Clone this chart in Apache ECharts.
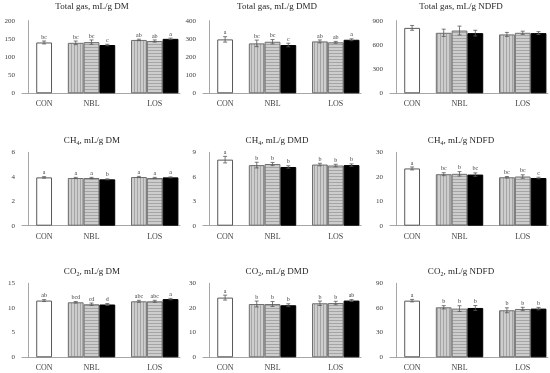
<!DOCTYPE html>
<html><head><meta charset="utf-8">
<script src="https://cdn.jsdelivr.net/npm/echarts@6/dist/echarts.min.js"></script>
<style>html,body{margin:0;padding:0;background:#fff}#c{width:550px;height:373px}</style>
</head><body><div id="c"></div>
<script>
// ---- data ----
const groups = ['CON', 'NBL', 'LOS'];
const groupSizes = [1, 3, 3];

const titles = [
  'Total gas, mL/g DM', 'Total gas, mL/g DMD', 'Total gas, mL/g NDFD',
  'CH{s|4}, mL/g DM', 'CH{s|4}, mL/g DMD', 'CH{s|4}, mL/g NDFD',
  'CO{s|2}, mL/g DM', 'CO{s|2}, mL/g DMD', 'CO{s|2}, mL/g NDFD'
];
const yMax = [200, 400, 900, 6, 9, 30, 15, 30, 90];
const yStep = [50, 100, 300, 2, 3, 10, 5, 10, 30];

const gasDM    = [140, 139, 141, 133, 147, 144, 150];
const gasDMD   = [297, 275, 284, 266, 286, 281, 295];
const gasNDFD  = [811, 750, 778, 746, 730, 750, 746];
const ch4DM    = [3.95, 3.9, 3.9, 3.79, 3.98, 3.9, 3.95];
const ch4DMD   = [8.1, 7.43, 7.56, 7.2, 7.5, 7.38, 7.43];
const ch4NDFD  = [23.4, 21.05, 21.2, 20.9, 19.8, 20.1, 19.5];
const co2DM    = [11.5, 11.15, 10.75, 10.7, 11.35, 11.35, 11.8];
const co2DMD   = [24.2, 21.6, 21.6, 21.1, 21.9, 22.0, 23.0];
const co2NDFD  = [68.9, 60.8, 59.2, 60.0, 57.2, 58.8, 59.2];

const gasDMErr   = [4, 5, 6, 2, 2, 3, 2];
const gasDMDErr  = [15, 18, 12, 10, 8, 5, 5];
const gasNDFDErr = [30, 45, 55, 35, 25, 20, 18];
const ch4DMErr   = [0.06, 0.05, 0.05, 0.04, 0.05, 0.05, 0.04];
const ch4DMDErr  = [0.4, 0.35, 0.2, 0.15, 0.15, 0.15, 0.15];
const ch4NDFDErr = [0.6, 0.6, 0.9, 0.7, 0.3, 0.7, 0.3];
const co2DMErr   = [0.2, 0.15, 0.25, 0.2, 0.2, 0.2, 0.15];
const co2DMDErr  = [1.0, 1.2, 1.0, 0.6, 0.9, 0.7, 0.4];
const co2NDFDErr = [1.5, 2, 3.5, 3, 3, 2, 1.5];

const gasDMLet   = ['bc', 'bc', 'bc', 'c', 'ab', 'ab', 'a'];
const gasDMDLet  = ['a', 'bc', 'bc', 'c', 'ab', 'ab', 'a'];
const gasNDFDLet = ['', '', '', '', '', '', ''];
const ch4DMLet   = ['a', 'a', 'a', 'b', 'a', 'a', 'a'];
const ch4DMDLet  = ['a', 'b', 'b', 'b', 'b', 'b', 'b'];
const ch4NDFDLet = ['a', 'bc', 'b', 'bc', 'bc', 'bc', 'c'];
const co2DMLet   = ['ab', 'bcd', 'cd', 'd', 'abc', 'abc', 'a'];
const co2DMDLet  = ['a', 'b', 'b', 'b', 'b', 'b', 'ab'];
const co2NDFDLet = ['a', 'b', 'b', 'b', 'b', 'b', 'b'];

const allValues  = [gasDM, gasDMD, gasNDFD, ch4DM, ch4DMD, ch4NDFD, co2DM, co2DMD, co2NDFD];
const allErrors  = [gasDMErr, gasDMDErr, gasNDFDErr, ch4DMErr, ch4DMDErr, ch4NDFDErr, co2DMErr, co2DMDErr, co2NDFDErr];
const allLetters = [gasDMLet, gasDMDLet, gasNDFDLet, ch4DMLet, ch4DMDLet, ch4NDFDLet, co2DMLet, co2DMDLet, co2NDFDLet];

// ---- layout / style ----
const FONT = 'Liberation Serif, Times New Roman, serif';
const TXT = '#404040';
const colLeft = [22, 203, 390];
const plotW = 158;
const rowTop = [20.7, 152.3, 283.3];
const rowH = [72.6, 73.4, 74];
const titleX = [92, 277, 461];
const titleTop = [2, 135, 266];

function stripe(vertical) {
  const c = document.createElement('canvas');
  c.width = vertical ? 3 : 1; c.height = vertical ? 1 : 3;
  const g = c.getContext('2d');
  g.fillStyle = '#cdcdcd'; g.fillRect(0, 0, c.width, c.height);
  g.fillStyle = '#a5a5a5';
  if (vertical) g.fillRect(2, 0, 1, 1); else g.fillRect(0, 2, 1, 1);
  return c;
}
const vPat = { image: stripe(true), repeat: 'repeat' };
const hPat = { image: stripe(false), repeat: 'repeat' };

// positions of bars in slot units
const positions = [];
const styleIdx = [];
let p = 1;
groupSizes.forEach((n, gi) => {
  for (let k = 0; k < n; k++) { positions.push(p++); styleIdx.push(gi === 0 ? 0 : k + 1); }
  p++;
});
const labelPos = {};
{
  let i = 0;
  groupSizes.forEach((n, gi) => { labelPos[positions[i + Math.floor(n / 2)]] = groups[gi]; i += n; });
}
const barStyles = [
  { color: '#ffffff', borderColor: '#595959', borderWidth: 1 },
  { color: vPat, borderColor: '#6e6e6e', borderWidth: 1 },
  { color: hPat, borderColor: '#6e6e6e', borderWidth: 1 },
  { color: '#000000', borderColor: '#000000', borderWidth: 1 }
];

const grid = [], xAxis = [], yAxis = [], series = [], title = [];
for (let i = 0; i < 9; i++) {
  const r = Math.floor(i / 3), c = i % 3;
  grid.push({ left: colLeft[c], top: rowTop[r], width: plotW, height: rowH[r] });
  xAxis.push({
    type: 'value', gridIndex: i, min: -0.4, max: 9.6, interval: 0.2,
    axisLine: { show: true, onZero: false, lineStyle: { color: '#a6a6a6', width: 1 } },
    axisTick: { show: false }, splitLine: { show: false },
    axisLabel: {
      margin: 7, fontFamily: FONT, fontSize: 8, color: TXT,
      showMinLabel: false, showMaxLabel: false,
      formatter: v => labelPos[Math.round(v * 10) / 10] || ''
    }
  });
  yAxis.push({
    type: 'value', gridIndex: i, min: 0, max: yMax[i], interval: yStep[i],
    axisLine: { show: true, lineStyle: { color: '#a6a6a6', width: 1 } },
    axisTick: { show: false }, splitLine: { show: false },
    axisLabel: { margin: 7, fontFamily: FONT, fontSize: 7, color: TXT }
  });
  title.push({
    text: titles[i], left: titleX[c], top: titleTop[r], textAlign: 'center', padding: 0,
    textStyle: {
      fontFamily: FONT, fontSize: 9, fontWeight: 'normal', color: '#262626',
      rich: { s: { fontFamily: FONT, fontSize: 6, color: '#262626', padding: [5, 0, 0, 0] } }
    }
  });
  const vals = allValues[i], errs = allErrors[i], lets = allLetters[i];
  series.push({
    type: 'bar', xAxisIndex: i, yAxisIndex: i, barWidth: plotW / 10,
    data: vals.map((v, k) => ({ value: [positions[k], v], itemStyle: barStyles[styleIdx[k]] })),
    animation: false, silent: true
  });
  series.push({
    type: 'custom', xAxisIndex: i, yAxisIndex: i, animation: false, silent: true, z: 5,
    data: vals.map((v, k) => [positions[k], v, errs[k]]),
    encode: { x: 0, y: 1 },
    renderItem: (params, api) => {
      const x = api.value(0), y = api.value(1), e = api.value(2);
      const top = api.coord([x, y + e]);
      const bot = api.coord([x, y - e]);
      const cap = 2;
      const col = '#595959';
      const lt = lets[params.dataIndex];
      return {
        type: 'group', children: [
          { type: 'line', shape: { x1: top[0], y1: top[1], x2: bot[0], y2: bot[1] }, style: { stroke: col, lineWidth: 0.8 } },
          { type: 'line', shape: { x1: top[0] - cap, y1: top[1], x2: top[0] + cap, y2: top[1] }, style: { stroke: col, lineWidth: 0.8 } },
          { type: 'line', shape: { x1: bot[0] - cap, y1: bot[1], x2: bot[0] + cap, y2: bot[1] }, style: { stroke: col, lineWidth: 0.8 } },
          { type: 'text', x: top[0], y: top[1] - 1, style: { text: lt, fontFamily: FONT, fontSize: 6, fill: TXT, textAlign: 'center', textVerticalAlign: 'bottom' } }
        ]
      };
    }
  });
}

const chart = echarts.init(document.getElementById('c'), null, { renderer: 'canvas' });
chart.setOption({ animation: false, backgroundColor: '#ffffff', title, grid, xAxis, yAxis, series });
</script></body></html>
